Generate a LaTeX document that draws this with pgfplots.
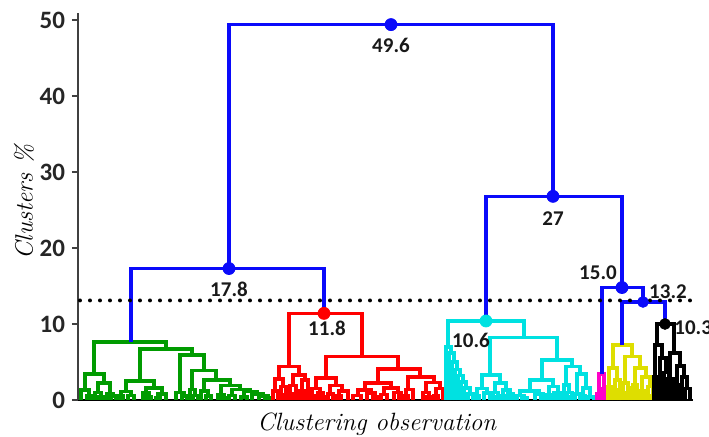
\documentclass[border=0pt]{standalone}
\usepackage{pgfplots}
\pgfplotsset{compat=1.18}
\usepackage{fontspec}
\newfontfamily\carlito{Carlito}
\definecolor{dblue}{RGB}{10,10,250}
\definecolor{dgreen}{RGB}{0,155,0}
\definecolor{dred}{RGB}{255,0,0}
\definecolor{dcyan}{RGB}{0,225,225}
\definecolor{dyellow}{RGB}{222,222,0}
\definecolor{dmag}{RGB}{255,0,200}
\begin{document}
\begin{tikzpicture}
\begin{axis}[
  at={(0,0)}, anchor=south west,
  scale only axis, width=307.5pt, height=193.4pt,
  xmin=78, xmax=693, ymin=0, ymax=50.9,
  axis x line=bottom, axis y line=left,
  axis line style={-},
  x axis line style={black, line width=0.8pt},
  y axis line style={black!75, line width=1pt},
  xtick=\empty, ytick={0,10,20,30,40,50},
  tick align=outside, major tick length=3pt,
  tick style={black!75, line width=0.8pt},
  yticklabel style={font=\carlito\bfseries\fontsize{12.5}{12.5}\selectfont, text=black!85},
  /pgf/number format/assume math mode=true,
  clip=false, unbounded coords=jump,
  ylabel={Clusters \%},
  ylabel style={font=\itshape\fontsize{12.5}{14}\selectfont, at={(axis description cs:-0.088,0.512)}, anchor=center},
  xlabel={Clustering observation},
  xlabel style={font=\itshape\fontsize{12.5}{14}\selectfont, at={(axis description cs:0.486,-0.080)}, anchor=base},
]
% green cluster
\addplot[dgreen, line width=1.8pt] coordinates {
(94,3.4)(94,7.6)(166,7.6)(166,6.7)(nan,nan)
(85,1.3)(85,3.4)(104,3.4)(104,2.2)(nan,nan)
(81,0)(81,1.3)(89,1.3)(89,0.6)(nan,nan)
(87,0)(87,0.6)(91,0.6)(91,0)(nan,nan)
(98,1.0)(98,2.2)(110,2.2)(110,0.8)(nan,nan)
(95,0)(95,1.0)(101,1.0)(101,0.4)(nan,nan)
(99,0)(99,0.4)(103,0.4)(103,0)(nan,nan)
(107,0)(107,0.8)(113,0.8)(113,0.5)(nan,nan)
(111,0)(111,0.5)(116,0.5)(116,0)(nan,nan)
(140,2.5)(140,6.7)(192,6.7)(192,5.9)(nan,nan)
(126,1.1)(126,2.5)(154,2.5)(154,1.6)(nan,nan)
(121,0.5)(121,1.1)(131,1.1)(131,0.6)(nan,nan)
(119,0)(119,0.5)(123,0.5)(123,0)(nan,nan)
(128,0)(128,0.6)(134,0.6)(134,0)(nan,nan)
(146,0.9)(146,1.6)(162,1.6)(162,0.8)(nan,nan)
(143,0)(143,0.9)(149,0.9)(149,0.4)(nan,nan)
(147,0)(147,0.4)(151,0.4)(151,0)(nan,nan)
(158,0.3)(158,0.8)(166,0.8)(166,0)(nan,nan)
(156,0)(156,0.3)(160,0.3)(160,0)(nan,nan)
(180,1.0)(180,5.9)(204,5.9)(204,3.9)(nan,nan)
(176,0)(176,1.0)(184,1.0)(184,0.5)(nan,nan)
(182,0)(182,0.5)(187,0.5)(187,0)(nan,nan)
(192,1.4)(192,3.9)(216,3.9)(216,2.6)(nan,nan)
(190,0)(190,1.4)(195,1.4)(195,0.6)(nan,nan)
(193,0)(193,0.6)(198,0.6)(198,0)(nan,nan)
(204,1.2)(204,2.6)(230,2.6)(230,1.9)(nan,nan)
(201,0)(201,1.2)(208,1.2)(208,0.5)(nan,nan)
(206,0)(206,0.5)(211,0.5)(211,0)(nan,nan)
(221,0.7)(221,1.9)(240,1.9)(240,1.4)(nan,nan)
(218,0)(218,0.7)(224,0.7)(224,0.3)(nan,nan)
(222,0)(222,0.3)(226,0.3)(226,0)(nan,nan)
(232,0.6)(232,1.4)(250,1.4)(250,1.1)(nan,nan)
(229,0)(229,0.6)(235,0.6)(235,0)(nan,nan)
(244,0.4)(244,1.1)(257,1.1)(257,0.8)(nan,nan)
(241,0)(241,0.4)(247,0.4)(247,0)(nan,nan)
(252,0)(252,0.8)(263,0.8)(263,0.5)(nan,nan)
(259,0)(259,0.5)(268,0.5)(268,0.3)(nan,nan)
(265,0)(265,0.3)(271,0.3)(271,0)
};
% red cluster
\addplot[dred, line width=1.8pt] coordinates {
(289,4.4)(289,11.4)(362,11.4)(362,5.7)(nan,nan)
(279,2.8)(279,4.4)(299,4.4)(299,3.3)(nan,nan)
(275,1.2)(275,2.8)(283,2.8)(283,1.8)(nan,nan)
(273,0)(273,1.2)(278,1.2)(278,0)(nan,nan)
(281,0.7)(281,1.8)(286,1.8)(286,0)(nan,nan)
(279,0)(279,0.7)(283,0.7)(283,0)(nan,nan)
(293,1.9)(293,3.3)(305,3.3)(305,2.6)(nan,nan)
(290,0)(290,1.9)(296,1.9)(296,0.8)(nan,nan)
(294,0)(294,0.8)(298,0.8)(298,0)(nan,nan)
(302,1.2)(302,2.6)(308,2.6)(308,0.5)(nan,nan)
(300,0)(300,1.2)(304,1.2)(304,0)(nan,nan)
(306,0)(306,0.5)(309,0.5)(309,0)(nan,nan)
(326,2.9)(326,5.7)(398,5.7)(398,4.1)(nan,nan)
(316,1.5)(316,2.9)(336,2.9)(336,1.9)(nan,nan)
(312,0.6)(312,1.5)(320,1.5)(320,0.9)(nan,nan)
(311,0)(311,0.6)(314,0.6)(314,0)(nan,nan)
(318,0)(318,0.9)(323,0.9)(323,0.4)(nan,nan)
(321,0)(321,0.4)(325,0.4)(325,0)(nan,nan)
(330,0.8)(330,1.9)(342,1.9)(342,1.2)(nan,nan)
(328,0)(328,0.8)(333,0.8)(333,0)(nan,nan)
(339,0.5)(339,1.2)(348,1.2)(348,0)(nan,nan)
(337,0)(337,0.5)(341,0.5)(341,0)(nan,nan)
(378,2.2)(378,4.1)(420,4.1)(420,3.0)(nan,nan)
(365,1.3)(365,2.2)(391,2.2)(391,1.6)(nan,nan)
(358,0.6)(358,1.3)(371,1.3)(371,0.9)(nan,nan)
(353,0)(353,0.6)(361,0.6)(361,0)(nan,nan)
(367,0)(367,0.9)(375,0.9)(375,0.4)(nan,nan)
(373,0)(373,0.4)(377,0.4)(377,0)(nan,nan)
(384,0.7)(384,1.6)(398,1.6)(398,1.0)(nan,nan)
(381,0)(381,0.7)(387,0.7)(387,0)(nan,nan)
(394,0)(394,1.0)(401,1.0)(401,0.5)(nan,nan)
(399,0)(399,0.5)(403,0.5)(403,0)(nan,nan)
(408,1.4)(408,3.0)(434,3.0)(434,2.3)(nan,nan)
(406,0.6)(406,1.4)(413,1.4)(413,0)(nan,nan)
(405,0)(405,0.6)(408,0.6)(408,0)(nan,nan)
(426,1.0)(426,2.3)(440,2.3)(440,1.5)(nan,nan)
(423,0)(423,1.0)(429,1.0)(429,0.4)(nan,nan)
(427,0)(427,0.4)(431,0.4)(431,0)(nan,nan)
(436,0.6)(436,1.5)(443,1.5)(443,0)(nan,nan)
(434,0)(434,0.6)(438,0.6)(438,0)
};
% cyan cluster
\addplot[dcyan, line width=1.8pt] coordinates {
(448,7.0)(448,10.4)(524,10.4)(524,8.2)(nan,nan)
(446,0)(446,7.0)(451,7.0)(451,6.2)(nan,nan)
(449,0)(449,6.2)(454,6.2)(454,5.0)(nan,nan)
(452,0)(452,5.0)(457,5.0)(457,4.0)(nan,nan)
(455,0)(455,4.0)(460,4.0)(460,3.2)(nan,nan)
(458,0)(458,3.2)(463,3.2)(463,2.4)(nan,nan)
(461,0)(461,2.4)(466,2.4)(466,1.6)(nan,nan)
(464,0)(464,1.6)(470,1.6)(470,0.8)(nan,nan)
(468,0)(468,0.8)(473,0.8)(473,0)(nan,nan)
(490,3.3)(490,8.2)(557,8.2)(557,5.3)(nan,nan)
(482,1.5)(482,3.3)(500,3.3)(500,2.2)(nan,nan)
(477,0.6)(477,1.5)(487,1.5)(487,0.9)(nan,nan)
(475,0)(475,0.6)(479,0.6)(479,0)(nan,nan)
(484,0)(484,0.9)(490,0.9)(490,0)(nan,nan)
(495,1.0)(495,2.2)(506,2.2)(506,1.3)(nan,nan)
(493,0)(493,1.0)(498,1.0)(498,0.4)(nan,nan)
(496,0)(496,0.4)(500,0.4)(500,0)(nan,nan)
(503,0.5)(503,1.3)(510,1.3)(510,0.8)(nan,nan)
(501,0)(501,0.5)(505,0.5)(505,0)(nan,nan)
(508,0)(508,0.8)(513,0.8)(513,0.3)(nan,nan)
(511,0)(511,0.3)(515,0.3)(515,0)(nan,nan)
(542,2.6)(542,5.3)(572,5.3)(572,4.4)(nan,nan)
(530,1.2)(530,2.6)(553,2.6)(553,1.8)(nan,nan)
(520,0.6)(520,1.2)(539,1.2)(539,0.8)(nan,nan)
(517,0)(517,0.6)(524,0.6)(524,0.3)(nan,nan)
(522,0)(522,0.3)(527,0.3)(527,0)(nan,nan)
(535,0)(535,0.8)(543,0.8)(543,0.4)(nan,nan)
(541,0)(541,0.4)(545,0.4)(545,0)(nan,nan)
(549,0.7)(549,1.8)(558,1.8)(558,1.0)(nan,nan)
(547,0)(547,0.7)(551,0.7)(551,0)(nan,nan)
(554,0)(554,1.0)(561,1.0)(561,0.5)(nan,nan)
(558,0)(558,0.5)(562,0.5)(562,0)(nan,nan)
(566,2.0)(566,4.4)(580,4.4)(580,3.4)(nan,nan)
(564,0)(564,2.0)(569,2.0)(569,1.0)(nan,nan)
(567,0)(567,1.0)(572,1.0)(572,0.4)(nan,nan)
(570,0)(570,0.4)(574,0.4)(574,0)(nan,nan)
(577,0.8)(577,3.4)(586,3.4)(586,1.6)(nan,nan)
(575,0)(575,0.8)(580,0.8)(580,0)(nan,nan)
(583,0.6)(583,1.6)(590,1.6)(590,0.4)(nan,nan)
(581,0)(581,0.6)(585,0.6)(585,0)(nan,nan)
(588,0)(588,0.4)(594,0.4)(594,0)
};
% magenta cluster
\addplot[dmag, line width=1.8pt] coordinates {
(599,0.8)(599,3.4)(604,3.4)(604,1.5)(nan,nan)
(597,0)(597,0.8)(601,0.8)(601,0)(nan,nan)
(603,0)(603,1.5)(606,1.5)(606,0)
};
% yellow cluster
\addplot[dyellow, line width=1.8pt] coordinates {
(613,4.2)(613,7.2)(632,7.2)(632,5.7)(nan,nan)
(609,1.8)(609,4.2)(617,4.2)(617,2.6)(nan,nan)
(608,0)(608,1.8)(611,1.8)(611,0)(nan,nan)
(615,1.0)(615,2.6)(620,2.6)(620,1.4)(nan,nan)
(614,0)(614,1.0)(616,1.0)(616,0)(nan,nan)
(619,0)(619,1.4)(622,1.4)(622,0.5)(nan,nan)
(621,0)(621,0.5)(624,0.5)(624,0)(nan,nan)
(625,2.2)(625,5.7)(640,5.7)(640,4.2)(nan,nan)
(623,0.9)(623,2.2)(628,2.2)(628,0)(nan,nan)
(622,0)(622,0.9)(625,0.9)(625,0)(nan,nan)
(630,0)(630,1.6)(633,1.6)(633,0)(nan,nan)
(635,2.0)(635,4.2)(646,4.2)(646,3.0)(nan,nan)
(633,0)(633,2.0)(637,2.0)(637,0.8)(nan,nan)
(636,0)(636,0.8)(639,0.8)(639,0)(nan,nan)
(642,1.2)(642,3.0)(650,3.0)(650,1.8)(nan,nan)
(641,0)(641,1.2)(644,1.2)(644,0)(nan,nan)
(648,0.6)(648,1.8)(653,1.8)(653,0)(nan,nan)
(647,0)(647,0.6)(650,0.6)(650,0)
};
% black cluster
\addplot[black, line width=1.8pt] coordinates {
(657,7.2)(657,10.0)(674,10.0)(674,6.2)(nan,nan)
(655,3.0)(655,7.2)(662,7.2)(662,5.5)(nan,nan)
(654,0)(654,3.0)(657,3.0)(657,1.0)(nan,nan)
(656,0)(656,1.0)(659,1.0)(659,0)(nan,nan)
(660,2.0)(660,5.5)(666,5.5)(666,3.6)(nan,nan)
(659,0)(659,2.0)(662,2.0)(662,0)(nan,nan)
(664,0)(664,3.6)(669,3.6)(669,1.5)(nan,nan)
(667,0)(667,1.5)(671,1.5)(671,0)(nan,nan)
(670,2.8)(670,6.2)(680,6.2)(680,4.5)(nan,nan)
(668,0)(668,2.8)(673,2.8)(673,1.2)(nan,nan)
(672,0)(672,1.2)(675,1.2)(675,0)(nan,nan)
(677,2.0)(677,4.5)(684,4.5)(684,3.0)(nan,nan)
(676,0)(676,2.0)(679,2.0)(679,0)(nan,nan)
(682,0)(682,3.0)(687,3.0)(687,1.5)(nan,nan)
(685,0)(685,1.5)(690,1.5)(690,0)
};
% main (blue) links
\addplot[dblue, line width=1.8pt] coordinates {
(229,17.3)(229,49.4)(553,49.4)(553,26.8)(nan,nan)
(131,7.6)(131,17.3)(324,17.3)(324,11.4)(nan,nan)
(486,10.4)(486,26.8)(622,26.8)(622,14.8)(nan,nan)
(602,3.4)(602,14.8)(643,14.8)(643,12.9)(nan,nan)
(622,7.2)(622,12.9)(665,12.9)(665,10.0)
};
% cut-off line
\addplot[black, line width=2pt, dash pattern=on 0pt off 5pt, line cap=round] coordinates {(80,13.1) (693,13.1)};
% node markers
\addplot[only marks, mark=*, mark size=3pt, dblue] coordinates {(391,49.4) (229,17.3) (553,26.8) (622,14.8)};
\addplot[only marks, mark=*, mark size=2.7pt, dblue] coordinates {(643,12.9)};
\addplot[only marks, mark=*, mark size=3pt, dred] coordinates {(324,11.4)};
\addplot[only marks, mark=*, mark size=3pt, dcyan] coordinates {(486,10.4)};
\addplot[only marks, mark=*, mark size=2.7pt, black] coordinates {(665,10.0)};
% value labels
\begin{scope}[every node/.style={font=\carlito\bfseries\fontsize{10.5}{10.5}\selectfont, text=black!90, inner sep=0pt}]
\node at (axis cs:391,46.7) {49.6};
\node at (axis cs:229,14.6) {17.8};
\node at (axis cs:553,23.9) {27};
\node at (axis cs:327,9.4) {11.8};
\node at (axis cs:471,7.9) {10.6};
\node at (axis cs:598,16.7) {15.0};
\node at (axis cs:668,14.2) {13.2};
\node[anchor=west] at (axis cs:674,9.5) {10.3};
\end{scope}
\end{axis}
\pgfresetboundingbox
\path[use as bounding box] (-39pt,-18pt) rectangle (315.5pt,200pt);
\end{tikzpicture}
\end{document}
